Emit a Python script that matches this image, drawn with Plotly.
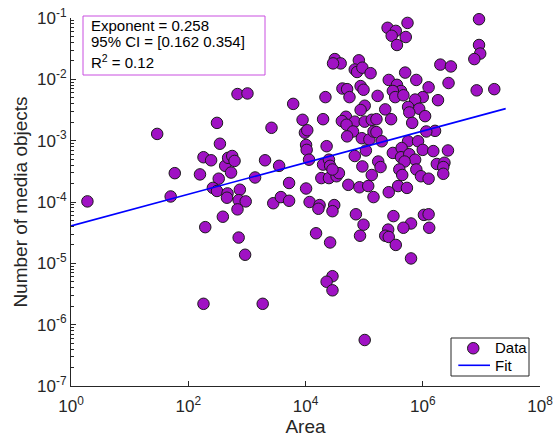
import plotly.graph_objects as go

# log10 of Area and log10 of Number of media objects
area_log10 = [
    0.28, 1.47, 1.77, 1.70, 2.20, 2.26, 2.39, 2.49, 2.54, 2.84, 3.01, 2.52, 2.42, 2.49,
    2.63, 2.68, 2.75, 2.79, 2.73, 2.67, 2.66, 2.88, 2.86, 2.98, 2.84, 2.59, 3.14, 2.29,
    2.86, 2.97, 2.26, 3.27, 3.31, 3.42, 3.45, 3.55, 3.58, 3.72, 3.72, 3.79, 3.95, 3.99,
    4.03, 4.01, 4.02, 4.06, 4.01, 4.07, 4.24, 4.22, 4.49, 4.46, 4.18, 4.42, 4.46, 4.36,
    4.46, 4.30, 4.34, 4.36, 4.30, 4.40, 4.42, 4.27, 4.40, 4.53, 4.57, 4.46, 4.50, 4.60,
    4.47, 4.91, 4.84, 4.88, 4.97, 5.11, 4.63, 4.71, 4.75, 4.94, 4.99, 5.23, 5.01, 4.94,
    4.69, 4.62, 4.84, 5.01, 5.13, 5.21, 4.70, 4.81, 4.71, 4.96, 5.09, 5.16, 5.03, 4.84,
    4.97, 5.13, 4.73, 4.92, 5.07, 5.16, 4.86, 4.99, 4.93, 5.01, 5.36, 5.24, 5.40, 5.54,
    5.74, 5.47, 5.71, 5.56, 6.96, 6.96, 6.98, 6.88, 6.30, 6.48, 5.70, 5.42, 5.89, 6.44,
    6.10, 5.56, 5.63, 5.49, 5.53, 5.67, 6.92, 7.22, 6.26, 6.00, 5.87, 5.75, 5.94, 5.77,
    6.04, 5.46, 5.82, 5.21, 5.30, 6.21, 6.06, 5.75, 5.92, 6.00, 6.18, 6.43, 5.49, 5.64,
    5.63, 5.77, 5.87, 5.69, 5.28, 5.60, 5.89, 6.24, 6.37, 6.35, 6.35, 5.65, 5.97, 6.10,
    5.58, 5.73, 5.42, 5.50, 6.02, 6.10, 5.80, 5.67, 5.41, 6.11, 5.36, 5.42, 5.54, 5.80,
]
media_log10 = [
    -3.99, -2.89, -3.53, -3.91, -3.55, -3.27, -3.32, -2.71, -3.05, -2.24, -2.23, -3.62, -3.77, -3.82,
    -3.41, -3.28, -3.25, -3.33, -3.52, -3.86, -3.93, -3.80, -3.97, -3.99, -4.12, -4.24, -3.60, -4.41,
    -4.58, -4.86, -5.66, -5.66, -3.32, -2.79, -4.02, -3.41, -3.92, -3.69, -3.98, -2.40, -2.66, -2.87,
    -2.83, -3.07, -3.15, -3.31, -3.78, -4.00, -4.05, -4.11, -4.05, -4.15, -4.51, -4.66, -5.21, -5.30,
    -5.44, -2.65, -2.29, -3.09, -3.39, -3.31, -3.41, -3.61, -3.61, -3.58, -3.53, -3.47, -1.67, -1.74,
    -1.74, -1.69, -1.84, -1.88, -1.81, -1.90, -2.15, -2.16, -2.29, -2.11, -2.17, -2.27, -2.43, -2.50,
    -2.61, -2.68, -2.69, -2.69, -2.66, -2.65, -2.74, -2.85, -2.93, -2.96, -2.98, -2.85, -3.16, -3.25,
    -3.42, -3.56, -3.72, -3.76, -3.74, -3.92, -4.20, -4.37, -4.55, -6.25, -2.49, -3.34, -1.16, -1.21,
    -1.08, -1.29, -1.31, -1.44, -1.02, -1.44, -1.58, -1.67, -1.76, -1.79, -1.89, -2.01, -2.01, -2.06,
    -2.13, -2.09, -2.19, -2.19, -2.29, -2.26, -2.18, -2.16, -2.34, -2.29, -2.33, -2.45, -2.48, -2.54,
    -2.60, -2.65, -2.71, -2.86, -3.01, -2.84, -2.85, -3.01, -3.01, -3.15, -3.17, -3.16, -3.20, -3.12,
    -3.27, -3.22, -3.31, -3.34, -3.43, -3.47, -3.47, -3.38, -3.36, -3.43, -3.54, -3.56, -3.58, -3.62,
    -3.74, -3.77, -3.84, -4.23, -4.21, -4.20, -4.35, -4.42, -4.45, -4.42, -4.55, -4.57, -4.70, -4.92,
]

fit_exponent = 0.258
fit_prefactor = 4.07e-5
fit_area = [1.0, 2.6e7]

stats_lines = ["Exponent = 0.258", "95% CI = [0.162 0.354]", "R<sup>2</sup> = 0.12"]
legend_labels = ["Data", "Fit"]

x_tick_vals = [1, 1e2, 1e4, 1e6, 1e8]
x_tick_text = ["10<sup>0</sup>", "10<sup>2</sup>", "10<sup>4</sup>", "10<sup>6</sup>", "10<sup>8</sup>"]
y_tick_vals = [1e-7, 1e-6, 1e-5, 1e-4, 1e-3, 1e-2, 1e-1]
y_tick_text = ["10<sup>-7</sup>", "10<sup>-6</sup>", "10<sup>-5</sup>", "10<sup>-4</sup>",
               "10<sup>-3</sup>", "10<sup>-2</sup>", "10<sup>-1</sup>"]

area = [10 ** v for v in area_log10]
media = [10 ** v for v in media_log10]
fit_media = [fit_prefactor * a ** fit_exponent for a in fit_area]

y_minor = [m * 10.0 ** e for e in range(-7, -1) for m in range(2, 10)]

AX = "#262626"
PURPLE = "#A012C4"
FONT = "Liberation Sans, Arial, Helvetica, sans-serif"

# page geometry helpers (plot area: 71..540 px wide, 18..386 px tall)
W, H, L, R, T, B = 556, 439, 71, 16, 18, 53
PW, PH = W - L - R, H - T - B


def px(x):
    return (x - L) / PW


def py(y):
    return (H - B - y) / PH


fig = go.Figure()
fig.add_trace(go.Scatter(
    x=area, y=media, mode="markers", name=legend_labels[0], cliponaxis=False,
    marker=dict(size=11.5, color=PURPLE, line=dict(color="#1a1a1a", width=1)),
))
fig.add_trace(go.Scatter(
    x=fit_area, y=fit_media, mode="lines", name=legend_labels[1],
    line=dict(color="#0000FF", width=1.6),
))

shapes = [
    # statistics box
    dict(type="rect", xref="paper", yref="paper", x0=px(83), x1=px(265), y0=py(75), y1=py(16),
         line=dict(color="#C94FE0", width=1), fillcolor="white", layer="above"),
    # legend box
    dict(type="rect", xref="paper", yref="paper", x0=px(451), x1=px(529), y0=py(376), y1=py(338),
         line=dict(color=AX, width=1), fillcolor="white", layer="above"),
    # legend symbol: Data marker
    dict(type="circle", xref="paper", yref="paper", x0=px(467.5), x1=px(479.0), y0=py(354.0), y1=py(342.5),
         line=dict(color="#1a1a1a", width=1), fillcolor=PURPLE, layer="above"),
    # legend symbol: Fit line
    dict(type="line", xref="paper", yref="paper", x0=px(458.3), x1=px(490), y0=py(365.3), y1=py(365.3),
         line=dict(color="#0000FF", width=1.6), layer="above"),
]

annotations = []
for text, yc in zip(stats_lines, [25.5, 42.0, 61.5]):
    annotations.append(dict(
        xref="paper", yref="paper", x=px(89), y=py(yc), xanchor="left", yanchor="middle",
        text=text, showarrow=False, align="left",
        font=dict(size=15, color="black", family=FONT),
    ))
for text, yc in zip(legend_labels, [347.5, 365.0]):
    annotations.append(dict(
        xref="paper", yref="paper", x=px(493), y=py(yc), xanchor="left", yanchor="middle",
        text=text, showarrow=False, align="left",
        font=dict(size=15, color="black", family=FONT),
    ))

fig.update_layout(
    width=W, height=H,
    margin=dict(l=L, r=R, t=T, b=B),
    paper_bgcolor="white", plot_bgcolor="white",
    font=dict(family=FONT, color=AX),
    showlegend=False,
    shapes=shapes,
    annotations=annotations,
    xaxis=dict(
        type="log", range=[0, 8], tickmode="array", tickvals=x_tick_vals, ticktext=x_tick_text,
        ticks="inside", ticklen=5, tickcolor=AX, showline=True, linecolor=AX, linewidth=1,
        showgrid=False, zeroline=False, mirror=False, automargin=False,
        tickfont=dict(size=17, color=AX), ticklabelstandoff=5,
        title=dict(text="Area", font=dict(size=19, color=AX), standoff=2),
    ),
    yaxis=dict(
        type="log", range=[-7, -1], tickmode="array", tickvals=y_tick_vals, ticktext=y_tick_text,
        ticks="inside", ticklen=5, tickcolor=AX, showline=True, linecolor=AX, linewidth=1,
        showgrid=False, zeroline=False, mirror=False, automargin=False,
        tickfont=dict(size=17, color=AX),
        minor=dict(tickmode="array", tickvals=y_minor, ticks="inside", ticklen=3, tickcolor=AX, showgrid=False),
        title=dict(text="Number of media objects", font=dict(size=19, color=AX), standoff=4),
    ),
)

fig.write_html("out.html", config={"displayModeBar": False},
               post_script="document.body.style.margin='0';")
